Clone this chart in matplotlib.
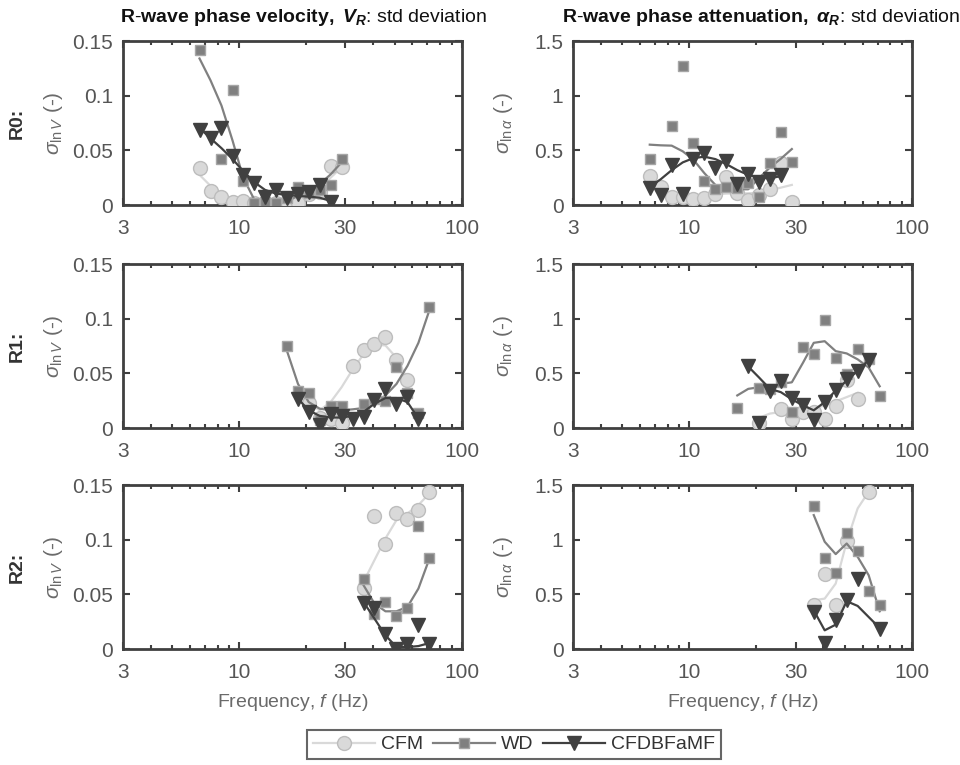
import numpy as np
import matplotlib
matplotlib.use('Agg')
from matplotlib import pyplot as plt
from matplotlib.lines import Line2D
from matplotlib.ticker import FixedLocator, LogLocator, NullFormatter

plt.rcParams['font.family'] = ['Liberation Sans', 'DejaVu Sans']
plt.rcParams['mathtext.fontset'] = 'custom'
plt.rcParams['mathtext.rm'] = 'Liberation Sans'
plt.rcParams['mathtext.it'] = 'Liberation Sans:italic'
plt.rcParams['mathtext.bf'] = 'Liberation Sans:bold'
plt.rcParams['mathtext.bfit'] = 'Liberation Sans:bold:italic'

nan = np.nan

# frequency grid (Hz)
f_r0 = [6.63, 7.43, 8.32, 9.33, 10.42, 11.67, 13.07, 14.64, 16.40, 18.37, 20.52, 22.98, 25.74, 28.84]
f_r1 = [16.40, 18.37, 20.52, 22.98, 25.74, 28.84, 32.39, 36.18, 40.52, 45.41, 50.88, 57.00, 63.86, 71.58]
f_r2 = [36.18, 40.52, 45.41, 50.88, 57.00, 63.86, 71.58]

# ---- R0 velocity
r0v_cfm_pts = [0.0334, 0.0126, 0.0077, 0.0028, 0.0034, 0.0015, 0.0003, 0.0018, 0.0028, 0.0015, 0.0098, 0.012, 0.0353, 0.0344]
r0v_cfm_fit = [0.0276, 0.0175, 0.0098, 0.0052, 0.0031, 0.0021, 0.0021, 0.0028, 0.0043, 0.0067, 0.0098, 0.016, 0.025, 0.0344]
r0v_wd_pts = [0.1414, nan, 0.0417, 0.1052, 0.0221, 0.0018, 0.0025, 0.0021, 0.0067, 0.0163, 0.0114, 0.0135, 0.0181, 0.0423]
r0v_wd_fit = [0.134, 0.114, 0.091, 0.059, 0.025, 0.0052, 0.0012, 0.0012, 0.0037, 0.0083, 0.0129, 0.019, 0.028, 0.039]
r0v_cf_pts = [0.069, 0.0613, 0.0705, 0.0448, 0.0276, 0.0199, 0.0077, 0.0141, 0.0067, 0.0098, 0.012, 0.0184, 0.0031]
r0v_cf_fit = [0.0705, 0.061, 0.052, 0.042, 0.031, 0.021, 0.0138, 0.0104, 0.0092, 0.0083, 0.0077, 0.0067, 0.0037]

# ---- R0 attenuation
r0a_cfm_pts = [0.264, 0.166, 0.077, 0.077, 0.052, 0.067, 0.098, 0.258, 0.107, 0.043, 0.089, 0.150, 0.383, 0.025]
r0a_cfm_fit = [0.175, 0.135, 0.107, 0.092, 0.086, 0.089, 0.098, 0.104, 0.107, 0.107, 0.113, 0.135, 0.159, 0.184]
r0a_wd_pts = [0.423, nan, 0.724, 1.273, 0.570, 0.221, 0.147, 0.166, 0.159, 0.202, 0.074, 0.386, 0.669, 0.396]
r0a_wd_fit = [0.552, 0.546, 0.543, 0.491, 0.414, 0.291, 0.184, 0.144, 0.144, 0.144, 0.245, 0.343, 0.423, 0.512]
r0a_cf_pts = [0.159, 0.089, 0.368, 0.098, 0.423, 0.472, 0.343, 0.405, 0.190, 0.288, 0.212, 0.239, 0.270]
r0a_cf_fit = [0.166, 0.236, 0.319, 0.390, 0.429, 0.442, 0.420, 0.374, 0.319, 0.276, 0.251, 0.245, 0.264]

# ---- R1 velocity (index into f_r1)
r1v_cfm_pts = [nan, nan, 0.0228, 0.0093, 0.0078, 0.0048, 0.0568, 0.0712, 0.0764, 0.0833, 0.0622, 0.0439, nan, nan]
r1v_cfm_fit = [0.0222, 0.0162, 0.0237, 0.0373, 0.0538, 0.0673, 0.0764, 0.0755, 0.0643, 0.0448]
r1v_wd_pts = [0.0749, 0.034, 0.0316, 0.0072, 0.0198, 0.0198, nan, 0.0219, 0.0262, 0.0243, 0.0562, 0.0322, 0.0141, 0.1109]
r1v_wd_fit = [0.0703, 0.0403, 0.0237, 0.0177, 0.0162, 0.0162, 0.0171, 0.0183, 0.0222, 0.0298, 0.0403, 0.0568, 0.0779, 0.1079]
r1v_cf_pts = [nan, 0.0262, 0.0147, 0.0027, 0.0132, 0.0108, 0.0081, 0.0102, 0.0253, 0.0358, 0.0216, 0.0283, 0.0081, nan]
r1v_cf_fit = [0.0268, 0.0162, 0.0111, 0.0096, 0.0096, 0.0111, 0.0147, 0.0222, 0.0274, 0.0274, 0.0237, 0.0087]

# ---- R1 attenuation
r1a_cfm_pts = [nan, nan, 0.042, nan, 0.171, 0.087, 0.147, 0.147, 0.078, 0.201, 0.442, 0.262, nan, nan]
r1a_cfm_fit = [0.093, 0.132, 0.147, 0.156, 0.168, 0.177, 0.207, 0.243, 0.283, 0.322]
r1a_wd_pts = [0.183, nan, 0.370, 0.358, 0.424, 0.147, 0.739, 0.676, 0.989, 0.637, 0.493, 0.724, 0.628, 0.292]
r1a_wd_fit = [0.298, 0.358, 0.373, 0.358, 0.403, 0.418, 0.598, 0.779, 0.794, 0.703, 0.682, 0.628, 0.553, 0.382]
r1a_cf_pts = [nan, 0.568, 0.042, 0.343, 0.430, 0.277, 0.207, 0.072, 0.237, 0.352, 0.448, 0.523, 0.619, nan]
r1a_cf_fit = [0.562, 0.463, 0.358, 0.328, 0.262, 0.207, 0.162, 0.237, 0.343, 0.433, 0.523, 0.622]

# ---- R2 velocity
r2v_cfm_pts = [0.0559, 0.1213, 0.0965, 0.1246, 0.1188, 0.1268, 0.1433]
r2v_cfm_fit = [0.0614, 0.0813, 0.1011, 0.1179, 0.124, 0.1317, 0.1424]
r2v_wd_pts = [0.0642, 0.0324, 0.0431, 0.0306, 0.0379, 0.1127, 0.0834]
r2v_wd_fit = [0.0584, 0.0416, 0.0345, 0.0345, 0.0385, 0.0553, 0.0828]
r2v_cf_pts = [0.0422, 0.0376, 0.0137, 0.0003, 0.0049, 0.0217, 0.0046]
r2v_cf_fit = [0.0431, 0.0278, 0.0125, 0.0018, 0.0018, 0.0027, 0.0055]

# ---- R2 attenuation
r2a_cfm_pts = [0.400, 0.684, 0.400, 0.990, nan, 1.439, nan]
r2a_cfm_fit = [0.446, 0.461, 0.599, 0.981, 1.286, 1.439]
r2a_wd_pts = [1.311, 0.828, 0.693, 1.063, 0.895, 0.532, 0.400]
r2a_wd_fit = [1.225, 0.981, 0.868, 0.965, 0.843, 0.675, 0.345]
r2a_cf_pts = [0.339, 0.055, 0.269, 0.446, 0.638, nan, 0.186]
r2a_cf_fit = [0.354, 0.171, 0.223, 0.437, 0.394, 0.293, 0.192]

c_cfm, e_cfm = '#d9d9d9', '#bdbdbd'
c_wd, e_wd = '#808080', '#a6a6a6'
c_cf = '#404040'
ax_col = '#404040'
txt_col = '#555555'
lab_col = '#6a6a6a'


def draw(ax, f, cfm_pts, cfm_fit, f_cfm_fit, wd_pts, wd_fit, f_wd_fit, cf_pts, cf_fit, f_cf_pts, f_cf_fit):
    ax.plot(f_cfm_fit, cfm_fit, '-', color=c_cfm, lw=1.6, zorder=2)
    ax.plot(f, cfm_pts, 'o', ms=10, mfc=c_cfm, mec=e_cfm, mew=1, zorder=3)
    ax.plot(f_wd_fit, wd_fit, '-', color=c_wd, lw=1.6, zorder=4)
    ax.plot(f, wd_pts, 's', ms=7, mfc=c_wd, mec=e_wd, mew=1, zorder=5)
    ax.plot(f_cf_fit, cf_fit, '-', color=c_cf, lw=1.6, zorder=6)
    ax.plot(f_cf_pts, cf_pts, 'v', ms=10, mfc=c_cf, mec=c_cf, zorder=7)


def style(ax, ymax, yticks, ylabels):
    ax.set_xscale('log')
    ax.set_xlim(3, 100)
    ax.set_ylim(0, ymax)
    ax.xaxis.set_major_locator(FixedLocator([3, 10, 30, 100]))
    ax.set_xticklabels(['3', '10', '30', '100'])
    ax.xaxis.set_minor_locator(LogLocator(base=10, subs=np.arange(2, 10)))
    ax.xaxis.set_minor_formatter(NullFormatter())
    ax.set_yticks(yticks)
    ax.set_yticklabels(ylabels)
    ax.tick_params(which='both', direction='in', top=True, right=True,
                   colors=ax_col, labelcolor=txt_col, labelsize=15, width=1.5)
    ax.tick_params(which='major', length=5)
    ax.tick_params(which='minor', length=3)
    ax.tick_params(axis='x', which='major', pad=10)
    ax.tick_params(axis='y', which='major', pad=7)
    for s in ax.spines.values():
        s.set_color(ax_col)
        s.set_linewidth(2)


fig = plt.figure(figsize=(9.6, 7.65), dpi=100)
lefts = [0.128, 0.597]
bottoms = [0.732, 0.4405, 0.1516]
w, h = 0.353, 0.2144
axes = [[fig.add_axes([l, b, w, h]) for l in lefts] for b in bottoms]

f1 = f_r1
draw(axes[0][0], f_r0, r0v_cfm_pts, r0v_cfm_fit, f_r0, r0v_wd_pts, r0v_wd_fit, f_r0,
     r0v_cf_pts, r0v_cf_fit, f_r0[:13], f_r0[:13])
draw(axes[0][1], f_r0, r0a_cfm_pts, r0a_cfm_fit, f_r0, r0a_wd_pts, r0a_wd_fit, f_r0,
     r0a_cf_pts, r0a_cf_fit, f_r0[:13], f_r0[:13])
draw(axes[1][0], f1, r1v_cfm_pts, r1v_cfm_fit, f1[2:12], r1v_wd_pts, r1v_wd_fit, f1,
     r1v_cf_pts, r1v_cf_fit, f1, f1[1:13])
draw(axes[1][1], f1, r1a_cfm_pts, r1a_cfm_fit, f1[2:12], r1a_wd_pts, r1a_wd_fit, f1,
     r1a_cf_pts, r1a_cf_fit, f1, f1[1:13])
draw(axes[2][0], f_r2, r2v_cfm_pts, r2v_cfm_fit, f_r2, r2v_wd_pts, r2v_wd_fit, f_r2,
     r2v_cf_pts, r2v_cf_fit, f_r2, f_r2)
draw(axes[2][1], f_r2, r2a_cfm_pts, r2a_cfm_fit, f_r2[:6], r2a_wd_pts, r2a_wd_fit, f_r2,
     r2a_cf_pts, r2a_cf_fit, f_r2, f_r2)

row_names = ['R0', 'R1', 'R2']
for i in range(3):
    style(axes[i][0], 0.15, [0, 0.05, 0.1, 0.15], ['0', '0.05', '0.1', '0.15'])
    style(axes[i][1], 1.5, [0, 0.5, 1, 1.5], ['0', '0.5', '1', '1.5'])
    axes[i][0].set_ylabel(r'$\sigma_{\mathrm{ln}\,V}$ (-)', fontsize=15, color=lab_col)
    axes[i][1].set_ylabel(r'$\sigma_{\mathrm{ln}\,\alpha}$ (-)', fontsize=15, color=lab_col)
    axes[i][0].yaxis.set_label_coords(-0.172, 0.5)
    axes[i][1].yaxis.set_label_coords(-0.172, 0.5)
    b = bottoms[i] + h / 2
    fig.text(0.018, b, row_names[i] + ':', rotation=90, fontsize=14, fontweight='bold',
             color='#333333', ha='center', va='center')

for j in range(2):
    axes[2][j].set_xlabel(r'Frequency, $f$ (Hz)', fontsize=14, color=lab_col, labelpad=7)

fig.text(0.125, 0.977,
         r'$\mathbf{R\text{-}wave\ phase\ velocity,}\ \mathbfit{V}_{\mathbfit{R}}$: std deviation',
         fontsize=14, ha='left', va='center', color='#111111')
fig.text(0.5855, 0.977,
         r'$\mathbf{R\text{-}wave\ phase\ attenuation,}\ \mathbfit{\alpha}_{\mathbfit{R}}$: std deviation',
         fontsize=14, ha='left', va='center', color='#111111')

handles = [
    Line2D([], [], color=c_cfm, lw=1.6, marker='o', ms=10, mfc=c_cfm, mec=e_cfm),
    Line2D([], [], color=c_wd, lw=1.6, marker='s', ms=7, mfc=c_wd, mec=e_wd),
    Line2D([], [], color=c_cf, lw=1.6, marker='v', ms=10, mfc=c_cf, mec=c_cf),
]
leg = fig.legend(handles, ['CFM', 'WD', 'CFDBFaMF'], loc='upper left',
                 bbox_to_anchor=(0.32, 1 - 730 / 765), borderaxespad=0,
                 ncol=3, fontsize=14, frameon=True, fancybox=False, handlelength=3.2,
                 columnspacing=0.5, handletextpad=0.3, borderpad=0.3)
leg.get_frame().set_edgecolor(ax_col)
leg.get_frame().set_linewidth(1.5)
for t in leg.get_texts():
    t.set_color('#333333')

fig.savefig('out.png', dpi=100)
